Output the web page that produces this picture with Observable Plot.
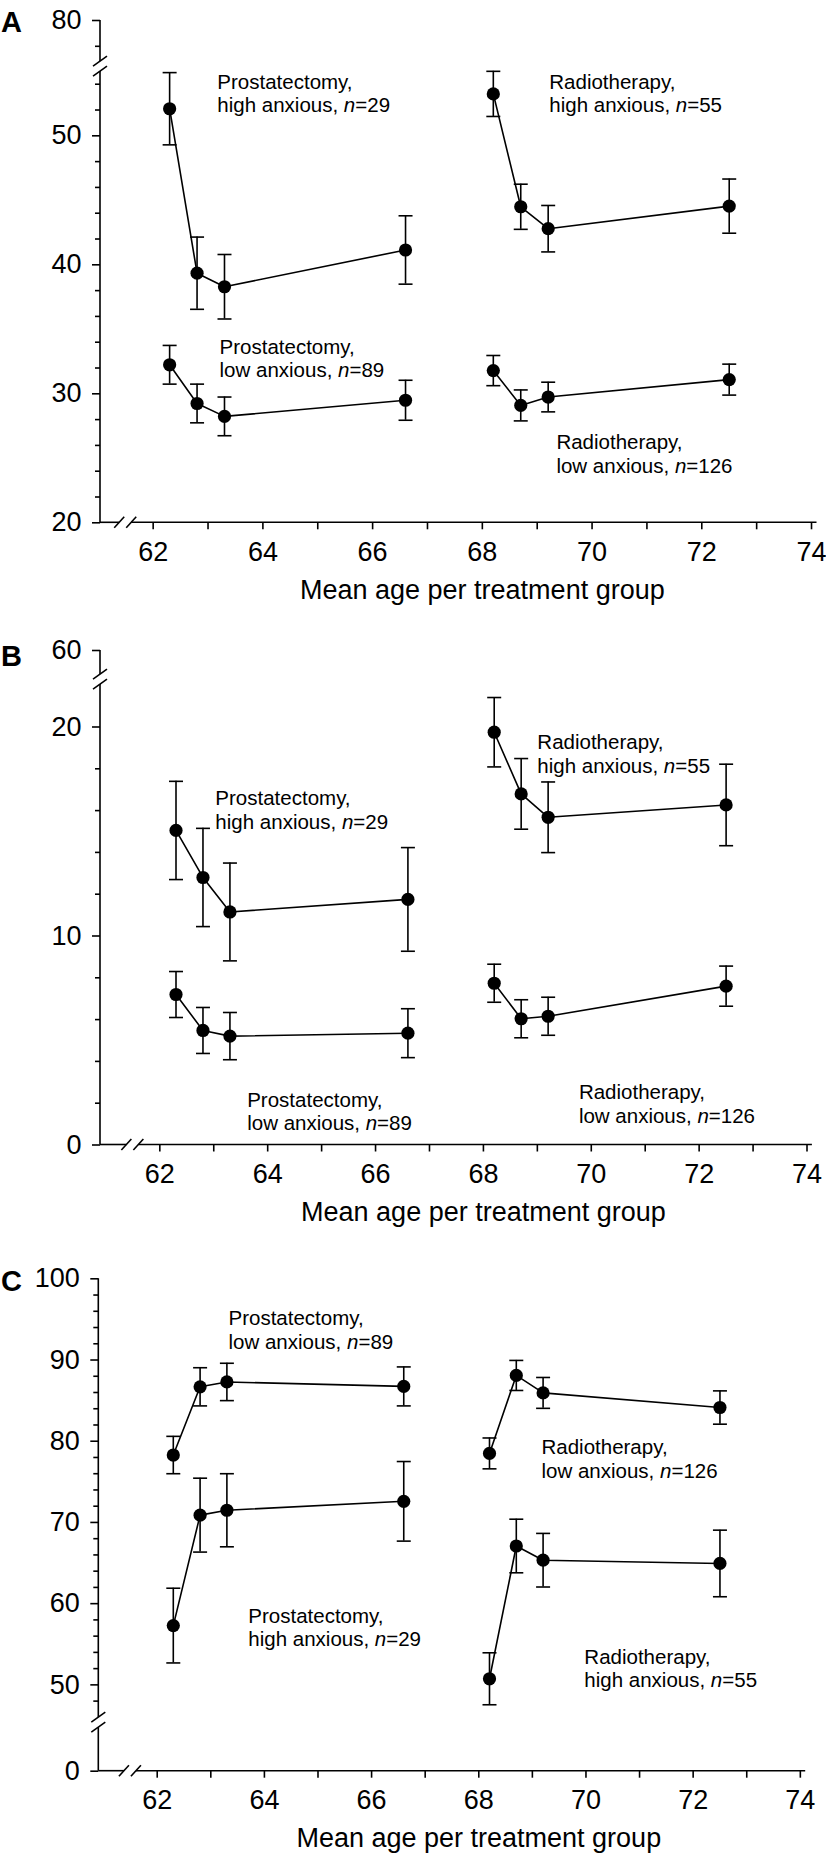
<!DOCTYPE html>
<html><head><meta charset="utf-8">
<script src="https://cdn.jsdelivr.net/npm/d3@7"></script>
<script src="https://cdn.jsdelivr.net/npm/@observablehq/plot@0.6"></script>
<style>
body{margin:0;background:#fff;}
#fig{position:relative;width:826px;height:1856px;font-family:"Liberation Sans",Arial,Helvetica,sans-serif;color:#000;}
.panel{position:absolute;left:0;}
.letter{position:absolute;left:1px;font-weight:bold;font-size:29px;line-height:29px;font-family:"Liberation Sans",Arial,Helvetica,sans-serif;}
</style></head><body><div id="fig"></div>
<script>
// ---- shared axis data ----
const prostatectomyAges = [62.3, 62.8, 63.3, 66.6];
const radiotherapyAges = [68.2, 68.7, 69.2, 72.5];
const xTickLabels = [62, 64, 66, 68, 70, 72, 74];
const xMinorTicks = [63, 65, 67, 69, 71, 73];
const xTitle = "Mean age per treatment group";

// ---- Panel A ----
const aProsHigh = [52.1, 39.35, 38.3, 41.15];
const aProsHighErr = [2.8, 2.8, 2.5, 2.65];
const aRadHigh = [53.25, 44.5, 42.8, 44.55];
const aRadHighErr = [1.75, 1.75, 1.8, 2.1];
const aProsLow = [32.25, 29.25, 28.25, 29.5];
const aProsLowErr = [1.5, 1.5, 1.5, 1.55];
const aRadLow = [31.8, 29.1, 29.75, 31.1];
const aRadLowErr = [1.17, 1.2, 1.15, 1.2];
const aYTicks = [20, 30, 40, 50, 80];
const aYMinor = [22, 24, 26, 28, 32, 34, 36, 38, 42, 44, 46, 48, 52, 54, 78];

// ---- Panel B ----
const bProsHigh = [15.05, 12.8, 11.15, 11.75];
const bProsHighErr = [2.35, 2.35, 2.34, 2.48];
const bRadHigh = [19.75, 16.8, 15.68, 16.27];
const bRadHighErr = [1.66, 1.69, 1.69, 1.95];
const bProsLow = [7.2, 5.48, 5.21, 5.35];
const bProsLowErr = [1.1, 1.1, 1.13, 1.17];
const bRadLow = [7.74, 6.04, 6.16, 7.6];
const bRadLowErr = [0.91, 0.91, 0.91, 0.96];
const bYTicks = [0, 10, 20, 60];
const bYMinor = [2, 4, 6, 8, 12, 14, 16, 18];

// ---- Panel C ----
const cProsLow = [78.3, 86.7, 87.3, 86.75];
const cProsLowErr = [2.3, 2.35, 2.3, 2.4];
const cRadLow = [78.5, 88.1, 85.95, 84.15];
const cRadLowErr = [1.9, 1.85, 1.9, 2.05];
const cProsHigh = [57.3, 70.9, 71.5, 72.6];
const cProsHighErr = [4.6, 4.55, 4.5, 4.9];
const cRadHigh = [50.75, 67.1, 65.35, 64.95];
const cRadHighErr = [3.2, 3.3, 3.3, 4.1];
const cYTicks = [0, 50, 60, 70, 80, 90, 100];
const cYMinor = [48, 52, 54, 56, 58, 62, 64, 66, 68, 72, 74, 76, 78, 82, 84, 86, 88, 92, 94, 96, 98];

// ---- Series labels ----
const labelProsHigh = "Prostatectomy,\nhigh anxious, n=29";
const labelProsLow = "Prostatectomy,\nlow anxious, n=89";
const labelRadHigh = "Radiotherapy,\nhigh anxious, n=55";
const labelRadLow = "Radiotherapy,\nlow anxious, n=126";

function rows(name, ages, values, errs) {
  return values.map((v, i) => ({series: name, age: ages[i], value: v, err: errs[i]}));
}

const capSymbol = {draw(ctx, size) { const r = Math.sqrt(size / Math.PI); ctx.moveTo(-r, 0); ctx.lineTo(r, 0); }};

function axisFrame(cfg) {
  return (index, scales) => {
    const {x, y} = scales;
    const g = d3.create("svg:g").attr("stroke", "black").attr("stroke-width", 1.6).attr("fill", "none");
    const x0 = x(cfg.xDomain[0]), x1 = x(cfg.xDomain[1]);
    const y0 = y(cfg.yDomain[0]), y1 = y(cfg.yDomain[1]);
    const by = y(cfg.yBreak), bx = x(cfg.xBreak);
    const gy = 5, gx = 6;
    g.append("line").attr("x1", x0).attr("x2", x0).attr("y1", y1).attr("y2", by - gy);
    g.append("line").attr("x1", x0).attr("x2", x0).attr("y1", by + gy).attr("y2", y0);
    for (const o of [-gy, gy]) g.append("line").attr("x1", x0 - 7).attr("y1", by + o + 5).attr("x2", x0 + 7).attr("y2", by + o - 5);
    g.append("line").attr("x1", x0).attr("x2", bx - gx).attr("y1", y0).attr("y2", y0);
    g.append("line").attr("x1", bx + gx).attr("x2", x1).attr("y1", y0).attr("y2", y0);
    for (const o of [-gx, gx]) g.append("line").attr("x1", bx + o - 5).attr("y1", y0 + 5.5).attr("x2", bx + o + 5).attr("y2", y0 - 5.5);
    return g.node();
  };
}

function makePanel(cfg) {
  const f = cfg.f;
  const data = cfg.series.flat();
  const tickMap = new Map(cfg.yTicks.map(v => [f(v), String(v)]));
  const lw = 1.6;
  const plot = Plot.plot({
    width: 826,
    height: cfg.height,
    marginTop: cfg.marginTop, marginBottom: cfg.marginBottom,
    marginLeft: cfg.marginLeft, marginRight: cfg.marginRight,
    style: {fontFamily: '"Liberation Sans", Arial, Helvetica, sans-serif', fontSize: "27px", background: "transparent", overflow: "visible", color: "black"},
    x: {domain: cfg.xDomain, label: null},
    y: {domain: cfg.yDomain, label: null},
    marks: [
      axisFrame(cfg),
      Plot.axisX(xTickLabels, {tickSize: 7, tickPadding: 12, fontSize: 27, strokeWidth: lw, label: null}),
      Plot.axisX(xMinorTicks, {tickSize: 7, tickFormat: () => "", strokeWidth: lw, label: null}),
      Plot.axisY(cfg.yTicks.map(f), {tickSize: 8, tickPadding: 11, fontSize: 27, strokeWidth: lw, tickFormat: d => tickMap.get(d), label: null}),
      Plot.axisY(cfg.yMinor.map(f), {tickSize: 5, tickFormat: () => "", strokeWidth: lw, label: null}),
      Plot.ruleX(data, {x: "age", y1: d => f(d.value - d.err), y2: d => f(d.value + d.err), stroke: "black", strokeWidth: lw}),
      Plot.dot(data, {x: "age", y: d => f(d.value + d.err), symbol: capSymbol, r: 7, fill: "none", stroke: "black", strokeWidth: lw}),
      Plot.dot(data, {x: "age", y: d => f(d.value - d.err), symbol: capSymbol, r: 7, fill: "none", stroke: "black", strokeWidth: lw}),
      Plot.line(data, {x: "age", y: d => f(d.value), z: "series", stroke: "black", strokeWidth: lw}),
      Plot.dot(data, {x: "age", y: d => f(d.value), r: 6.6, fill: "black", stroke: "none"}),
      Plot.text(cfg.labels, {x: "x", y: "y", text: "label", textAnchor: "start", lineAnchor: "top", lineHeight: 1.15, fontSize: 20.5, fill: "black"}),
      Plot.text([xTitle], {x: () => (xTickLabels[0] + xTickLabels[xTickLabels.length - 1]) / 2, frameAnchor: "bottom", lineAnchor: "bottom", dy: 76, fontSize: 27, fill: "black"})
    ]
  });
  // italic "n"
  plot.querySelectorAll("tspan, text").forEach(el => {
    if (el.children.length === 0 && /, n=/.test(el.textContent)) {
      const t = el.textContent;
      const k = t.indexOf(", n=");
      el.textContent = t.slice(0, k + 2);
      const it = document.createElementNS("http://www.w3.org/2000/svg", "tspan");
      it.setAttribute("font-style", "italic");
      it.textContent = "n";
      el.appendChild(it);
      el.appendChild(document.createTextNode(t.slice(k + 3)));
    }
  });
  // make sure tick labels use the intended size
  plot.querySelectorAll('g[aria-label="x-axis tick label"], g[aria-label="y-axis tick label"]').forEach(g => {
    g.setAttribute("font-size", "27");
  });
  const wrap = document.createElement("div");
  wrap.className = "panel";
  wrap.style.top = cfg.top + "px";
  wrap.appendChild(plot);
  const letter = document.createElement("div");
  letter.className = "letter";
  letter.textContent = cfg.letter;
  letter.style.top = (cfg.letterBaseline - 24.6) + "px";
  const fig = document.getElementById("fig");
  fig.appendChild(wrap);
  fig.appendChild(letter);
}

// Panel A
const fA = v => v > 60 ? v - 21.06 : v;
makePanel({
  letter: "A", letterBaseline: 33, top: 0, height: 610,
  marginTop: 20, marginBottom: 87.7, marginLeft: 100, marginRight: 9.5,
  xDomain: [61.04, 74.1], yDomain: [fA(20), fA(80)], f: fA, yBreak: 55.37, xBreak: 61.5,
  yTicks: aYTicks, yMinor: aYMinor,
  series: [
    rows("ph", prostatectomyAges, aProsHigh, aProsHighErr),
    rows("rh", radiotherapyAges, aRadHigh, aRadHighErr),
    rows("pl", prostatectomyAges, aProsLow, aProsLowErr),
    rows("rl", radiotherapyAges, aRadLow, aRadLowErr)
  ],
  labels: [
    {label: labelProsHigh, x: 63.17, y: 54.95},
    {label: labelRadHigh, x: 69.22, y: 54.95},
    {label: labelProsLow, x: 63.21, y: 34.41},
    {label: labelRadLow, x: 69.35, y: 26.99}
  ]
});

// Panel B
const fB = v => v > 30 ? v - 36.34 : v;
makePanel({
  letter: "B", letterBaseline: 667, top: 610, height: 625,
  marginTop: 40, marginBottom: 90.5, marginLeft: 100, marginRight: 14.1,
  xDomain: [60.9, 74.1], yDomain: [fB(0), fB(60)], f: fB, yBreak: 22.27, xBreak: 61.5,
  yTicks: bYTicks, yMinor: bYMinor,
  series: [
    rows("ph", prostatectomyAges, bProsHigh, bProsHighErr),
    rows("rh", radiotherapyAges, bRadHigh, bRadHighErr),
    rows("pl", prostatectomyAges, bProsLow, bProsLowErr),
    rows("rl", radiotherapyAges, bRadLow, bRadLowErr)
  ],
  labels: [
    {label: labelProsHigh, x: 63.03, y: 17.05},
    {label: labelRadHigh, x: 69.0, y: 19.73},
    {label: labelProsLow, x: 63.62, y: 2.64},
    {label: labelRadLow, x: 69.77, y: 2.99}
  ]
});

// Panel C
const fC = v => v < 40 ? v + 39.37 : v;
makePanel({
  letter: "C", letterBaseline: 1292, top: 1240, height: 616,
  marginTop: 38.3, marginBottom: 85.3, marginLeft: 98.3, marginRight: 20.8,
  xDomain: [60.91, 74.1], yDomain: [fC(0), fC(100)], f: fC, yBreak: 45.36, xBreak: 61.5,
  yTicks: cYTicks, yMinor: cYMinor,
  series: [
    rows("pl", prostatectomyAges, cProsLow, cProsLowErr),
    rows("rl", radiotherapyAges, cRadLow, cRadLowErr),
    rows("ph", prostatectomyAges, cProsHigh, cProsHighErr),
    rows("rh", radiotherapyAges, cRadHigh, cRadHighErr)
  ],
  labels: [
    {label: labelProsLow, x: 63.33, y: 96.35},
    {label: labelRadLow, x: 69.17, y: 80.48},
    {label: labelProsHigh, x: 63.70, y: 59.69},
    {label: labelRadHigh, x: 69.97, y: 54.65}
  ]
});
</script>
</body></html>
